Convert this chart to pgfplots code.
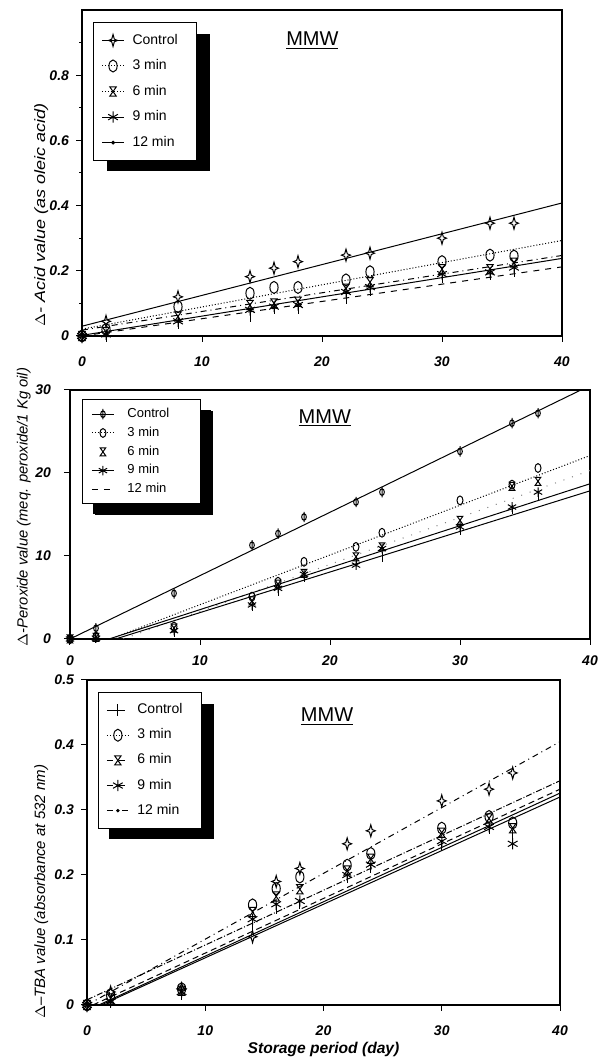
\documentclass[border=0pt]{standalone}
\usepackage{fontspec}
\setmainfont{Liberation Sans}
\usepackage{pgfplots}
\pgfplotsset{compat=1.18}
\usetikzlibrary{shadows}

\makeatletter
\tikzset{noshadow/.code={\let\tikz@preactions\pgfutil@empty}}
\makeatother

\pgfdeclareplotmark{star4}{%
  \pgfpathmoveto{\pgfqpoint{0pt}{\pgfplotmarksize}}%
  \pgfpathlineto{\pgfqpoint{0.22\pgfplotmarksize}{0.22\pgfplotmarksize}}%
  \pgfpathlineto{\pgfqpoint{0.75\pgfplotmarksize}{0pt}}%
  \pgfpathlineto{\pgfqpoint{0.22\pgfplotmarksize}{-0.22\pgfplotmarksize}}%
  \pgfpathlineto{\pgfqpoint{0pt}{-\pgfplotmarksize}}%
  \pgfpathlineto{\pgfqpoint{-0.22\pgfplotmarksize}{-0.22\pgfplotmarksize}}%
  \pgfpathlineto{\pgfqpoint{-0.75\pgfplotmarksize}{0pt}}%
  \pgfpathlineto{\pgfqpoint{-0.22\pgfplotmarksize}{0.22\pgfplotmarksize}}%
  \pgfpathclose\pgfusepathqstroke}
\pgfdeclareplotmark{ovalO}{%
  \pgfpathellipse{\pgfpointorigin}{\pgfqpoint{0.68\pgfplotmarksize}{0pt}}{\pgfqpoint{0pt}{\pgfplotmarksize}}%
  \pgfusepathqstroke}
\pgfdeclareplotmark{hourglass}{%
  \pgfpathmoveto{\pgfqpoint{-0.7\pgfplotmarksize}{\pgfplotmarksize}}%
  \pgfpathlineto{\pgfqpoint{0.7\pgfplotmarksize}{\pgfplotmarksize}}%
  \pgfpathlineto{\pgfqpoint{-0.7\pgfplotmarksize}{-\pgfplotmarksize}}%
  \pgfpathlineto{\pgfqpoint{0.7\pgfplotmarksize}{-\pgfplotmarksize}}%
  \pgfpathclose\pgfusepathqstroke}
\pgfdeclareplotmark{phi}{%
  \pgfpathellipse{\pgfpointorigin}{\pgfqpoint{0.45\pgfplotmarksize}{0pt}}{\pgfqpoint{0pt}{0.65\pgfplotmarksize}}%
  \pgfpathmoveto{\pgfqpoint{0pt}{\pgfplotmarksize}}%
  \pgfpathlineto{\pgfqpoint{0pt}{-\pgfplotmarksize}}%
  \pgfusepathqstroke}

\newcommand\lbox[2][27pt]{\makebox[#1][l]{\rule[-1.5pt]{0pt}{6.5pt}#2}}
\newcommand\smbox[1]{\makebox[31pt][l]{\rule[-1pt]{0pt}{5.5pt}#1}}

\pgfplotsset{
  base/.style={
    scale only axis, anchor=south west,
    xmin=0, xmax=40, xtick={0,10,20,30,40},
    axis line style={line width=0.6pt},
    tick style={black, line width=0.5pt},
    tick align=outside, xtick pos=bottom, ytick pos=left,
    major tick length=3pt, minor tick length=1.5pt,
    ticklabel style={font=\fontsize{7}{8}\selectfont\bfseries\itshape},
    /pgf/number format/assume math mode=true,
    every axis plot/.append style={line width=0.5pt, black},
    legend cell align=left,
    legend image code/.code={\draw[noshadow,mark repeat=2,mark phase=2,##1] plot coordinates {(0pt,0pt) (5.5pt,0pt) (11pt,0pt)};},
  },
  lgd/.style={
    legend style={draw=black, line width=0.5pt, fill=white,
      at={(0.023,0.962)}, anchor=north west,
      font=\fontsize{7}{8}\selectfont,
      inner xsep=4pt, inner ysep=4.5pt, row sep=4.2pt,
      nodes={inner sep=1pt},
      /tikz/every odd column/.append style={column sep=3pt},
      drop shadow={shadow xshift=6.5pt, shadow yshift=-5.5pt, fill=black, opacity=1}},
  },
}

\begin{document}
\begin{tikzpicture}
\path[use as bounding box] (0,0) rectangle (304.5pt,529.5pt);

% ---------------- Panel 1: Acid value
\begin{axis}[base, lgd,
  at={(41pt,361.5pt)}, width=240pt, height=163pt,
  ymin=0, ymax=1,
  ytick={0,0.2,0.4,0.6,0.8}, minor ytick={0.1,0.3,0.5,0.7,0.9},
  xticklabel style={yshift=-4pt},
  ylabel={\addfontfeatures{FakeStretch=1.2}$\Delta$- Acid value (as oleic acid)},
  ylabel style={at={(axis description cs:-0.085,0.371)}, anchor=center,
    font=\fontsize{7.5}{9}\selectfont\itshape},
]
\addplot[only marks, mark=star4, mark size=3pt, forget plot] coordinates {
(0,0) (2,0.045) (8,0.12) (14,0.182) (16,0.208) (18,0.228) (22,0.248) (24,0.254) (30,0.300) (34,0.346) (36,0.346)};
\addplot[solid, legend image post style={mark=star4, mark size=3pt}] coordinates {(0,0.030) (40,0.408)};
\addlegendentry{\lbox{Control}}
\addplot[only marks, mark=ovalO, mark size=3pt, forget plot] coordinates {
(0,0) (2,0.02) (8,0.09) (14,0.131) (16,0.149) (18,0.149) (22,0.172) (24,0.197) (30,0.228) (34,0.248) (36,0.245)};
\addplot[densely dotted, legend image post style={mark=ovalO, mark size=3pt, mark options={solid}}] coordinates {(0,0.021) (40,0.293)};
\addlegendentry{\lbox{3 min}}
\addplot[only marks, mark=hourglass, mark size=2.3pt, forget plot] coordinates {
(0,0) (2,0.012) (8,0.06) (14,0.095) (16,0.100) (18,0.105) (22,0.145) (24,0.165) (30,0.205) (34,0.205) (36,0.225)};
\addplot[dash dot, legend image post style={densely dotted, mark=hourglass, mark size=2.3pt, mark options={solid}}] coordinates {(0,0.018) (40,0.247)};
\addlegendentry{\lbox{6 min}}
\addplot[only marks, mark=asterisk, mark size=2.8pt, forget plot] coordinates {
(0,0) (2,0.005) (8,0.045) (14,0.08) (16,0.09) (18,0.095) (22,0.135) (24,0.15) (30,0.19) (34,0.195) (36,0.21)};
\addplot[solid, legend image post style={mark=asterisk, mark size=2.8pt}] coordinates {(0,0.002) (40,0.238)};
\addlegendentry{\lbox{9 min}}
\addplot[only marks, mark=|, mark size=3pt, forget plot] coordinates {
(0,0) (2,0.0) (8,0.04) (14,0.06) (16,0.085) (18,0.085) (22,0.115) (24,0.14) (30,0.18) (34,0.19) (36,0.2)};
\addplot[dashed, legend image post style={solid, mark=*, mark size=0.7pt}] coordinates {(0,0) (40,0.212)};
\addlegendentry{\lbox{12 min}}
\node[font=\fontsize{10}{12}\selectfont] at (axis cs:19.2,0.905) {\underline{MMW}};
\end{axis}

% ---------------- Panel 2: Peroxide value
\begin{axis}[base, lgd,
  at={(35pt,210pt)}, width=260pt, height=124.5pt,
  ymin=0, ymax=30, ytick={0,10,20,30},
  xticklabel style={yshift=-2pt},
  yticklabel style={xshift=-3pt},
  ylabel={$\Delta$-Peroxide value (meq. peroxide/1 Kg oil)},
  ylabel style={at={(axis description cs:-0.089,0.53)}, anchor=center,
    font=\fontsize{7.4}{9}\selectfont\itshape},
  legend style={font=\fontsize{6.5}{7.5}\selectfont, row sep=1.2pt, inner ysep=3pt, inner xsep=4.5pt,
    drop shadow={shadow xshift=5.5pt, shadow yshift=-5pt, fill=black, opacity=1},
    /tikz/every odd column/.append style={column sep=5.5pt}},
]
\addplot[only marks, mark=phi, mark size=2.6pt, forget plot] coordinates {
(0,0) (2,1.3) (8,5.5) (14,11.3) (16,12.7) (18,14.7) (22,16.5) (24,17.7) (30,22.6) (34,26.0) (36,27.2)};
\addplot[solid, legend image post style={mark=phi, mark size=2.6pt}] coordinates {(0,0) (39.3,30)};
\addlegendentry{\smbox{Control}}
\addplot[only marks, mark=ovalO, mark size=2.2pt, forget plot] coordinates {
(0,0) (2,0.3) (8,1.5) (14,5.1) (16,6.9) (18,9.3) (22,11.1) (24,12.8) (30,16.7) (34,18.6) (36,20.6)};
\addplot[densely dotted, legend image post style={mark=ovalO, mark size=2.2pt, mark options={solid}}] coordinates {(3.1,0) (40,22.1)};
\addlegendentry{\smbox{3 min}}
\addplot[only marks, mark=hourglass, mark size=2pt] coordinates {
(0,0) (2,0.2) (8,1.3) (14,4.6) (16,6.6) (18,7.9) (22,9.9) (24,11.1) (30,14.3) (34,18.4) (36,19.0)};
\addlegendentry{\smbox{6 min}}
\addplot[loosely dotted, gray, forget plot] coordinates {(4.1,0) (40,20.3)};
\addplot[only marks, mark=asterisk, mark size=2.4pt, forget plot] coordinates {
(0,0) (2,0.1) (8,1.0) (14,4.1) (16,6.1) (18,7.8) (22,8.9) (24,10.9) (30,13.5) (34,15.9) (36,17.7)};
\addplot[solid, legend image post style={mark=asterisk, mark size=2.4pt}] coordinates {(3.0,0) (40,18.7)};
\addlegendentry{\smbox{9 min}}
\addplot[only marks, mark=|, mark size=2.4pt, forget plot] coordinates {
(0,0) (2,0.1) (8,0.8) (14,4.0) (16,5.8) (18,7.5) (22,9.4) (24,9.9) (30,13.1) (34,15.6) (36,17.2)};
\addplot[solid, legend image post style={dashed}] coordinates {(0,0) (3.5,0) (40,17.85)};
\addlegendentry{\smbox{12 min}}
\node[font=\fontsize{10}{12}\selectfont] at (axis cs:19.6,26.6) {\underline{MMW}};
\end{axis}

% ---------------- Panel 3: TBA value
\begin{axis}[base, lgd,
  at={(43.5pt,27pt)}, width=236.5pt, height=162.5pt,
  ymin=0, ymax=0.5, ytick={0,0.1,0.2,0.3,0.4,0.5},
  xticklabel style={yshift=-4pt},
  ylabel={$\Delta$–TBA value (absorbance at 532 nm)},
  ylabel style={at={(axis description cs:-0.097,0.348)}, anchor=center,
    font=\fontsize{7.5}{9}\selectfont\itshape},
  xlabel={Storage period (day)},
  xlabel style={at={(axis description cs:0.5,-0.138)}, anchor=center,
    font=\fontsize{7.8}{9}\selectfont\bfseries\itshape},
  legend style={at={(0.023,0.963)}, row sep=4pt,
    drop shadow={shadow xshift=5.5pt, shadow yshift=-5.5pt, fill=black, opacity=1}},
]
\addplot[only marks, mark=star4, mark size=3pt, forget plot] coordinates {
(0,0) (2,0.02) (8,0.025) (14,0.105) (16,0.19) (18,0.21) (22,0.248) (24,0.268) (30,0.314) (34,0.332) (36,0.357)};
\addplot[dash dot, legend image post style={dashed, mark=+, mark size=3pt, mark options={solid}}] coordinates {(0,0) (40,0.405)};
\addlegendentry{\lbox{Control}}
\addplot[only marks, mark=ovalO, mark size=3pt, forget plot] coordinates {
(0,0) (2,0.015) (8,0.025) (14,0.154) (16,0.179) (18,0.197) (22,0.215) (24,0.233) (30,0.272) (34,0.290) (36,0.28)};
\addplot[densely dash dot, legend image post style={densely dotted, mark=ovalO, mark size=3pt, mark options={solid}}] coordinates {(0,0.008) (40,0.345)};
\addlegendentry{\lbox{3 min}}
\addplot[only marks, mark=hourglass, mark size=2.3pt, forget plot] coordinates {
(0,0) (2,0.01) (8,0.022) (14,0.143) (16,0.167) (18,0.178) (22,0.207) (24,0.225) (30,0.265) (34,0.287) (36,0.272)};
\addplot[densely dashed, legend image post style={dashed, mark=hourglass, mark size=2.3pt, mark options={solid}}] coordinates {(0.5,0) (40,0.332)};
\addlegendentry{\lbox{6 min}}
\addplot[only marks, mark=asterisk, mark size=2.8pt, forget plot] coordinates {
(0,0) (2,0.005) (8,0.02) (14,0.132) (16,0.155) (18,0.16) (22,0.2) (24,0.216) (30,0.252) (34,0.274) (36,0.248)};
\addplot[solid, legend image post style={dashed, mark=asterisk, mark size=2.8pt, mark options={solid}}] coordinates {(1.0,0) (40,0.326)};
\addlegendentry{\lbox{9 min}}
\addplot[only marks, mark=|, mark size=2.5pt, forget plot] coordinates {
(0,0) (2,0.003) (8,0.015) (14,0.12) (16,0.148) (18,0.155) (22,0.195) (24,0.21) (30,0.245) (34,0.27) (36,0.262)};
\addplot[solid, legend image post style={dash dot, mark=*, mark size=0.6pt, mark options={solid}}] coordinates {(1.2,0) (40,0.32)};
\addlegendentry{\lbox{12 min}}
\node[font=\fontsize{10}{12}\selectfont] at (axis cs:20.3,0.443) {\underline{MMW}};
\end{axis}
\end{tikzpicture}
\end{document}
